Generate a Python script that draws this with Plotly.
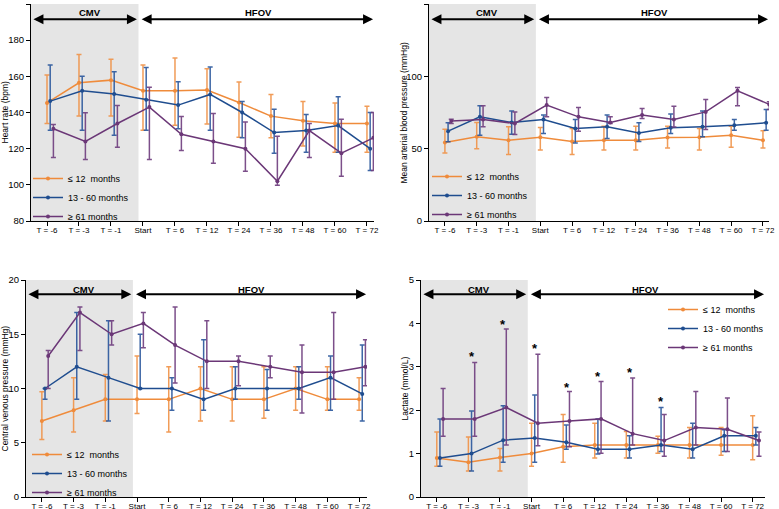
import plotly.graph_objects as go
import numpy as np

# ---------------- data ----------------
categories = ["T = -6", "T = -3", "T = -1", "Start", "T = 6", "T = 12",
              "T = 24", "T = 36", "T = 48", "T = 60", "T = 72"]
series_names = ["≤ 12  months", "13 - 60 months", "≥ 61 months"]

# Heart rate (bpm)
hr_le12 = [145.3, 156.4, 157.9, 152, 152, 152.4, 145.5, 138, 135.4, 133.9, 133.9]
hr_le12_hi = [160.7, 172.1, 169.5, 166.2, 170.1, 164.2, 156.8, 150, 146.1, 145.2, 143.5]
hr_le12_lo = [133.9, 138, 138.1, 130.2, 133, 133.7, 126.3, 126, 121.5, 118, 118]
hr_13_60 = [146.3, 152, 150.2, 147, 144.1, 150, 140, 128.9, 130, 132.8, 120]
hr_13_60_hi = [166.2, 160, 162.5, 164.9, 157, 165.1, 146.1, 141.8, 138.9, 148.7, 140]
hr_13_60_lo = [130.2, 130.2, 127.4, 130.2, 131, 130.2, 126, 117.5, 118, 118, 107.9]
hr_ge61 = [131, 124, 133.9, 143, 128, 124, 120, 102, 130, 117.5, 126]
hr_ge61_hi = [133.4, 139.8, 143.9, 153.9, 137.8, 139.5, 134.8, 126.9, 133.9, 136.3, 140]
hr_ge61_lo = [115.1, 114, 120.8, 114, 119, 112, 107.5, 99.8, 115.1, 104.7, 107.9]

# Mean arterial blood pressure (mmHg)
map_le12 = [54.2, 58.2, 55.8, 57.9, 54.9, 55.8, 55.8, 57.7, 57.9, 59.3, 55.8]
map_le12_hi = [63.5, 68.1, 65.1, 64.6, 63.9, 65.5, 65.5, 65.5, 63.9, 65.5, 62.3]
map_le12_lo = [47, 50, 46, 49, 46, 49, 49, 50.5, 49, 51, 50.5]
map_13_60 = [62.1, 72, 68.1, 70.2, 63.9, 65.1, 60.9, 64.4, 65.1, 66.2, 67.9]
map_13_60_hi = [67.9, 79.6, 76.1, 73.2, 70.2, 73.2, 67.9, 73.9, 76.1, 70.2, 77.1]
map_13_60_lo = [54.7, 59.3, 60, 60.5, 54, 57, 55, 60.5, 58.2, 62.8, 62.8]
map_ge61 = [69.2, 70.2, 67.4, 80.1, 72, 68.1, 73.2, 70.2, 75.4, 90, 80.6]
map_ge61_hi = [70.4, 79.6, 75.4, 85.4, 78.5, 72, 77.8, 79.4, 84, 92.3, 82.4]
map_ge61_lo = [67.4, 65.1, 59.8, 72, 62, 67.4, 70.9, 65, 63.2, 79.6, 77.1]

# Central venous pressure (mmHg)
cvp_le12 = [7, 8, 9, 9, 9, 10, 9, 9, 10, 9, 9]
cvp_le12_hi = [9.7, 11, 11.3, 13, 12, 12, 12, 12, 12, 12, 11]
cvp_le12_lo = [5.3, 6, 7, 7.7, 6, 7, 7, 7.25, 8, 8, 8]
cvp_13_60 = [10, 12, 11, 10, 10, 9, 10, 10, 10, 11, 9.5]
cvp_13_60_hi = [10, 17, 16.25, 15, 11, 14.5, 12, 11.75, 12, 13, 14]
cvp_13_60_lo = [9, 9, 7, 10, 8, 8, 9, 8, 9, 8, 7]
cvp_ge61 = [13, 17, 15, 16, 14, 12.5, 12.5, 12, 11.5, 11.5, 12]
cvp_ge61_hi = [13.5, 17.5, 16.25, 17, 17.5, 16.25, 13, 13, 14, 17, 14.5]
cvp_ge61_lo = [10, 13.5, 14, 13.75, 10.5, 10, 10.25, 11, 7.75, 9, 10.25]

# Lactate (mmol/L)
lac_le12 = [0.9, 0.8, 0.91, 1.0, 1.16, 1.2, 1.2, 1.2, 1.2, 1.2, 1.2]
lac_le12_hi = [1.5, 1.38, 1.12, 1.7, 1.9, 1.7, 1.51, 1.4, 1.6, 1.6, 1.87]
lac_le12_lo = [0.71, 0.6, 0.6, 0.71, 0.8, 0.9, 0.9, 1.01, 0.9, 0.96, 0.86]
lac_13_60 = [0.9, 1.0, 1.31, 1.36, 1.26, 1.1, 1.1, 1.2, 1.1, 1.41, 1.41]
lac_13_60_hi = [1.8, 1.98, 2.1, 2.35, 1.66, 1.8, 1.41, 2.06, 1.7, 1.55, 1.6]
lac_13_60_lo = [0.71, 0.6, 0.8, 0.8, 1.1, 0.99, 0.9, 1.05, 0.9, 1.05, 1.2]
lac_ge61 = [1.8, 1.8, 2.06, 1.7, 1.75, 1.8, 1.46, 1.3, 1.6, 1.56, 1.3]
lac_ge61_hi = [2.5, 3.1, 3.87, 3.29, 2.43, 2.66, 2.74, 1.9, 2.43, 2.28, 1.5]
lac_ge61_lo = [1.4, 1.4, 1.2, 1.18, 1.16, 1.01, 1.2, 0.94, 1.2, 1.05, 0.94]

# significance markers (lactate panel)
sig_categories = ["T = -3", "T = -1", "Start", "T = 6", "T = 12", "T = 24", "T = 36"]
sig_levels = [3.31, 4.05, 3.48, 2.6, 2.85, 2.94, 2.26]

y_titles = ["Heart rate (bpm)", "Mean arterial blood pressure (mmHg)",
            "Central venous pressure (mmHg)", "Lactate (mmol/L)"]

# ---------------- style ----------------
W, H = 779, 509
FONT = "Liberation Sans, Arial, Helvetica, sans-serif"
colors = ["#EF8B3B", "#1F4D8F", "#6B3777"]
err_colors = ["rgba(240,145,70,0.9)", "rgba(40,85,155,0.9)", "rgba(110,60,125,0.9)"]
dodge = [0.0, 0.1, 0.2]

panels = [
    dict(series=[(hr_le12, hr_le12_hi, hr_le12_lo), (hr_13_60, hr_13_60_hi, hr_13_60_lo),
                 (hr_ge61, hr_ge61_hi, hr_ge61_lo)],
         px=(31, 374), py=(4, 221), xr=(-0.5, 10.22), yr=(80, 200), dt=20,
         arrow_y_frac=0.93, label_y_frac=0.963, legend_xy=(28, 164), ytitle_x=5, shade_end=2.86),
    dict(series=[(map_le12, map_le12_hi, map_le12_lo), (map_13_60, map_13_60_hi, map_13_60_lo),
                 (map_ge61, map_ge61_hi, map_ge61_lo)],
         px=(429, 769), py=(4, 221), xr=(-0.5, 10.19), yr=(0, 150), dt=50,
         arrow_y_frac=0.93, label_y_frac=0.963, legend_xy=(427, 162), ytitle_x=404, shade_end=2.86),
    dict(series=[(cvp_le12, cvp_le12_hi, cvp_le12_lo), (cvp_13_60, cvp_13_60_hi, cvp_13_60_lo),
                 (cvp_ge61, cvp_ge61_hi, cvp_ge61_lo)],
         px=(26, 367), py=(280, 497), xr=(-0.5, 10.25), yr=(0, 20), dt=5,
         arrow_y_frac=0.934, label_y_frac=0.957, legend_xy=(27, 440), ytitle_x=4, shade_end=2.87),
    dict(series=[(lac_le12, lac_le12_hi, lac_le12_lo), (lac_13_60, lac_13_60_hi, lac_13_60_lo),
                 (lac_ge61, lac_ge61_hi, lac_ge61_lo)],
         px=(421, 765), py=(280, 497), xr=(-0.5, 10.39), yr=(0, 5), dt=1,
         arrow_y_frac=0.934, label_y_frac=0.957, legend_xy=(663, 295), ytitle_x=404, shade_end=2.88),
]

fig = go.Figure()
layout = dict(width=W, height=H, margin=dict(l=0, r=0, t=0, b=0, autoexpand=False),
              paper_bgcolor="white", plot_bgcolor="white",
              font=dict(family=FONT, size=9, color="black"),
              shapes=[], annotations=[])

idx = np.arange(len(categories))

for k, pnl in enumerate(panels):
    n = "" if k == 0 else str(k + 1)
    xa, ya = "x" + n, "y" + n
    leg = "legend" + n
    for s, (mid, hi, lo) in enumerate(pnl["series"]):
        mid_a, hi_a, lo_a = np.array(mid), np.array(hi), np.array(lo)
        fig.add_trace(go.Scatter(
            x=idx + dodge[s], y=mid_a, mode="lines+markers",
            name=series_names[s], legend=leg, xaxis=xa, yaxis=ya,
            line=dict(color=colors[s], width=1.5),
            marker=dict(color=colors[s], size=4, symbol="circle"),
            error_y=dict(type="data", symmetric=False, array=hi_a - mid_a,
                         arrayminus=mid_a - lo_a, color=err_colors[s],
                         thickness=1.5, width=2.5),
        ))
    x0, x1 = pnl["px"]
    t, b = pnl["py"]
    layout["xaxis" + n] = dict(
        domain=[x0 / W, x1 / W], range=list(pnl["xr"]), anchor=ya,
        tickmode="array", tickvals=list(idx), ticktext=categories,
        ticks="outside", ticklen=4, tickcolor="black", tickwidth=1,
        ticklabelstandoff=-3,
        showline=True, linecolor="black", linewidth=1, showgrid=False, zeroline=False,
        automargin=False,
        tickfont=dict(size=8, family=FONT, color="black"), fixedrange=True)
    layout["yaxis" + n] = dict(
        domain=[1 - b / H, 1 - t / H], range=list(pnl["yr"]), anchor=xa,
        tickmode="linear", tick0=pnl["yr"][0], dtick=pnl["dt"],
        ticks="outside", ticklen=4, tickcolor="black", tickwidth=1,
        showline=True, linecolor="black", linewidth=1, showgrid=False, zeroline=False,
        automargin=False,
        tickfont=dict(size=9.5, family=FONT, color="black"), fixedrange=True)
    lx, ly = pnl["legend_xy"]
    layout[leg] = dict(x=lx / W, y=1 - ly / H, xanchor="left", yanchor="top",
                       bgcolor="rgba(0,0,0,0)", font=dict(size=9, family=FONT),
                       itemwidth=30, tracegroupgap=0, traceorder="normal")
    # CMV shaded period
    layout["shapes"].append(dict(type="rect", xref=xa, yref=ya + " domain",
                                 x0=pnl["xr"][0], x1=pnl["shade_end"], y0=0, y1=1,
                                 fillcolor="#E5E5E5", line=dict(width=0), layer="below"))
    # phase arrows
    y_lo, y_hi = pnl["yr"]
    ay = y_lo + pnl["arrow_y_frac"] * (y_hi - y_lo)
    ly_ = y_lo + pnl["label_y_frac"] * (y_hi - y_lo)
    for (a0, a1) in [(pnl["xr"][0] + 0.03, pnl["shade_end"] - 0.05),
                     (pnl["shade_end"] + 0.05, pnl["xr"][1] - 0.03)]:
        layout["annotations"].append(dict(
            x=a1, y=ay, ax=a0, ay=ay, xref=xa, yref=ya, axref=xa, ayref=ya,
            text="", showarrow=True, arrowhead=2, startarrowhead=2,
            arrowside="end+start", arrowsize=1, startarrowsize=1,
            arrowwidth=2, arrowcolor="black"))
    for lab, lx_ in [("CMV", 1.33), ("HFOV", 6.6)]:
        layout["annotations"].append(dict(
            x=lx_, y=ly_, xref=xa, yref=ya, text="<b>" + lab + "</b>", showarrow=False,
            font=dict(size=9.5, family=FONT, color="black"), xanchor="center", yanchor="middle"))
    # y-axis title
    layout["annotations"].append(dict(
        x=pnl["ytitle_x"] / W, y=1 - (t + b) / 2 / H, xref="paper", yref="paper",
        text=y_titles[k], textangle=-90, showarrow=False,
        font=dict(size=8.5, family=FONT, color="black"),
        xanchor="center", yanchor="middle"))

# significance asterisks on the lactate panel
for c, lvl in zip(sig_categories, sig_levels):
    layout["annotations"].append(dict(
        x=categories.index(c) + 0.11, y=lvl, xref="x4", yref="y4", text="<b>*</b>",
        showarrow=False, font=dict(size=13, family=FONT, color="black"),
        xanchor="center", yanchor="middle", yshift=-3))

fig.update_layout(**layout)
fig.write_html("out.html", config={"displayModeBar": False},
               post_script="document.body.style.margin='0';document.body.style.padding='0';")
